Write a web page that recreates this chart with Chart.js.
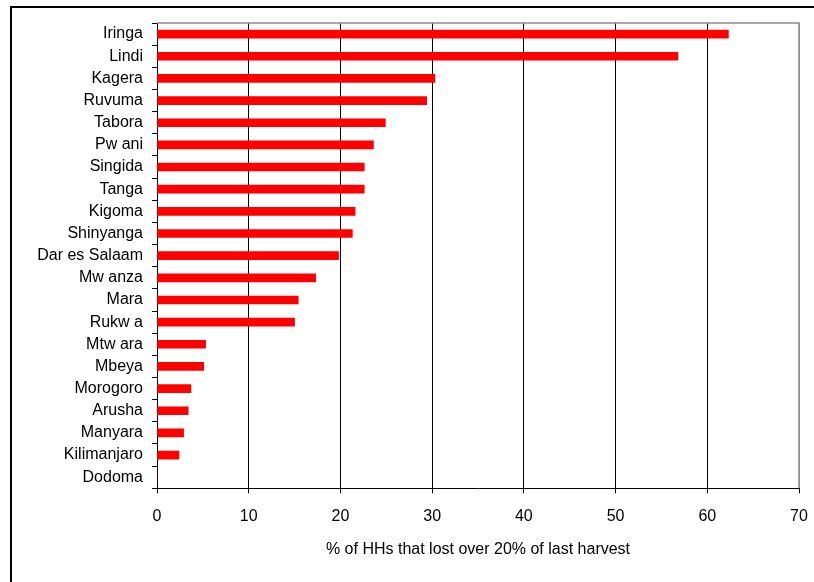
<!DOCTYPE html>
<html>
<head>
<meta charset="utf-8">
<script src="https://cdn.jsdelivr.net/npm/chart.js@4"></script>
<style>
  html, body { margin: 0; padding: 0; background: #fff; overflow: hidden; }
  #wrap { position: relative; width: 814px; height: 582px; }
  #frame { position: absolute; left: 10px; top: 6px; width: 900px; height: 700px; border: 2px solid #000; box-sizing: border-box; pointer-events: none; }
  canvas { position: absolute; left: 0; top: 0; }
</style>
</head>
<body>
<div id="wrap">
  <canvas id="c" width="814" height="582"></canvas>
  <div id="frame"></div>
</div>
<script>
// Regions, ordered from highest to lowest share
const regions = ["Iringa", "Lindi", "Kagera", "Ruvuma", "Tabora", "Pw ani", "Singida", "Tanga",
  "Kigoma", "Shinyanga", "Dar es Salaam", "Mw anza", "Mara", "Rukw a", "Mtw ara", "Mbeya",
  "Morogoro", "Arusha", "Manyara", "Kilimanjaro", "Dodoma"];
// % of households that lost over 20% of last harvest
const lossShare = [62.3, 56.8, 30.3, 29.4, 24.9, 23.6, 22.6, 22.6,
  21.6, 21.3, 19.8, 17.3, 15.4, 15.0, 5.3, 5.1,
  3.7, 3.4, 2.9, 2.4, 0];
const xTicks = [0, 10, 20, 30, 40, 50, 60, 70];
const xTitle = "% of HHs that lost over 20% of last harvest";

const FONT = "'Liberation Sans', Arial, sans-serif";

// Grey frame on the top and right of the plotting area
const plotFrame = {
  id: 'plotFrame',
  afterDraw(chart) {
    const { ctx, chartArea: a } = chart;
    ctx.save();
    ctx.strokeStyle = '#8c8c8c';
    ctx.lineWidth = 1.5;
    ctx.beginPath();
    ctx.moveTo(a.left, a.top);
    ctx.lineTo(a.right, a.top);
    ctx.lineTo(a.right, a.bottom);
    ctx.stroke();
    ctx.restore();
  }
};

new Chart(document.getElementById('c'), {
  type: 'bar',
  data: {
    labels: regions,
    datasets: [{
      data: lossShare,
      backgroundColor: '#ff0000',
      borderWidth: 0,
      barThickness: 8
    }]
  },
  plugins: [plotFrame],
  options: {
    indexAxis: 'y',
    responsive: false,
    animation: false,
    layout: { padding: { top: 23, right: 15, bottom: 0, left: 0 } },
    plugins: { legend: { display: false }, tooltip: { enabled: false } },
    scales: {
      x: {
        min: 0, max: 70,
        afterBuildTicks(scale) { scale.ticks = xTicks.map(v => ({ value: v })); },
        afterFit(scale) {
          scale.height = 93.7;
          scale.paddingLeft = 0;
          scale.paddingRight = 0;
        },
        grid: {
          color: ctx => (ctx.tick && ctx.tick.value === 70) ? '#8c8c8c' : '#000',
          tickColor: '#000',
          lineWidth: 1,
          tickLength: 5,
          drawOnChartArea: true
        },
        border: { display: true, color: '#000', width: 1 },
        ticks: { color: '#000', font: { family: FONT, size: 16 }, padding: 14, maxRotation: 0 },
        title: {
          display: true, text: xTitle, color: '#000',
          font: { family: FONT, size: 16 },
          padding: { top: 23, bottom: 23 }
        }
      },
      y: {
        afterFit(scale) {
          scale.width = 157;
          scale.paddingTop = 0;
          scale.paddingBottom = 0;
        },
        grid: {
          offset: true,
          drawOnChartArea: false,
          drawTicks: true,
          tickLength: 5,
          color: '#000'
        },
        border: { display: true, color: '#000', width: 1 },
        ticks: { color: '#000', font: { family: FONT, size: 16 }, padding: 9, autoSkip: false }
      }
    }
  }
});
</script>
</body>
</html>
